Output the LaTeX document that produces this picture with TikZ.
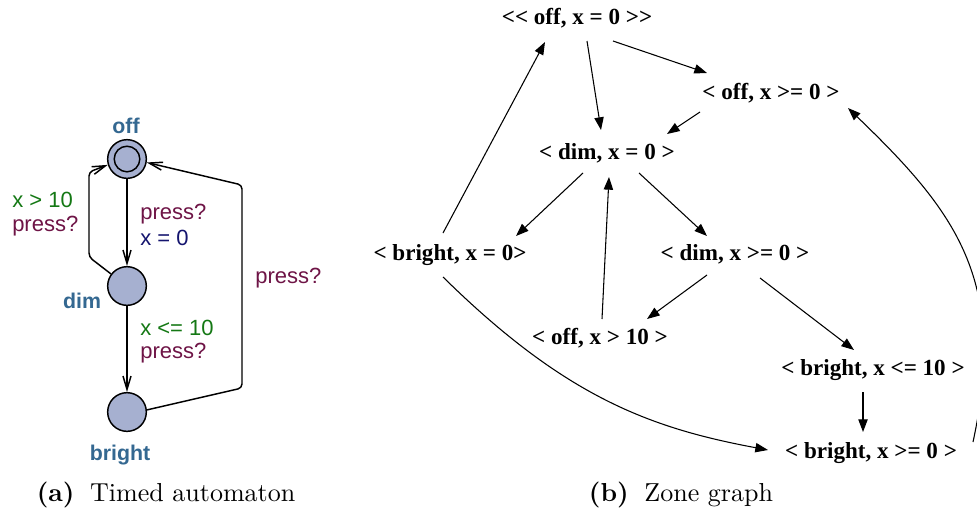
\documentclass[tikz,border=0pt]{standalone}
\usepackage{fontspec}
\newfontfamily\zonefont{Liberation Serif}
\newfontfamily\uppfont{Liberation Sans}
\usetikzlibrary{arrows.meta, calc}
\definecolor{locfill}{RGB}{166,176,208}
\definecolor{locname}{RGB}{52,104,145}
\definecolor{synccol}{RGB}{110,20,70}
\definecolor{guardcol}{RGB}{20,120,20}
\definecolor{assigncol}{RGB}{20,20,110}
\tikzset{
  loc/.style={circle, draw=black, fill=locfill, line width=1.1pt, minimum size=29pt, inner sep=0pt},
  locname/.style={font=\uppfont\bfseries\fontsize{16}{19}\selectfont, text=locname},
  lbl/.style={font=\uppfont\fontsize{16.5}{19}\selectfont, anchor=west, inner sep=0pt},
  tedge/.style={line width=1.1pt, -{Straight Barb[length=10pt, width=6pt]}},
  zone/.style={font=\zonefont\bfseries\fontsize{17.3}{20}\selectfont, inner sep=0pt, text height=0.7em, text depth=0.2em},
  zedge/.style={line width=0.8pt, -{Triangle[length=9.5pt, width=7pt]}},
  caption/.style={scale=1.95, anchor=base}
}

\begin{document}
\begin{tikzpicture}[x=0.75pt, y=-0.75pt]
  \useasboundingbox (0,0) rectangle (977,511);
  % (a) timed automaton
  \node[loc] (off) at (127,159) {};
  \draw[line width=1.1pt] (off.center) circle (9.6pt);
  \node[loc] (dim) at (127,286) {};
  \node[loc] (bright) at (127,412) {};
  \node[locname] (offname) at (126,126) {off};
  \node[locname] (dimname) at (82,301) {dim};
  \node[locname] (brightname) at (120,455) {bright};
  \coordinate (dimlow) at (89,257);
  \coordinate (dimhigh) at (89,172);
  \coordinate (brlow) at (242,388);
  \coordinate (brhigh) at (242,185);
  \draw[tedge] (off) -- (dim);
  \draw[tedge] (dim) -- (bright);
  \draw[tedge, rounded corners=3pt] (dim.143) -- (dimlow) -- (dimhigh) -- (off.197);
  \draw[tedge, rounded corners=3pt] (bright.6) -- (brlow) -- (brhigh) -- (off.-10);
  \node[lbl, text=synccol] (s1) at (140,214) {press?};
  \node[lbl, text=assigncol] (a1) at (140,238) {x = 0};
  \node[lbl, text=guardcol] (g2) at (12,200) {x > 10};
  \node[lbl, text=synccol] (s2) at (12,226) {press?};
  \node[lbl, text=guardcol] (g3) at (140,328) {x <= 10};
  \node[lbl, text=synccol] (s3) at (140,353) {press?};
  \node[lbl, text=synccol] (s4) at (255,278) {press?};
  % (b) zone graph
  \node[zone] (z0) at (577,21) {<< off, x = 0 >>};
  \node[zone] (zoffge) at (771,96) {< off, x >= 0 >};
  \node[zone] (zdim0) at (607,156) {< dim, x = 0 >};
  \node[zone] (zbri0) at (450,257) {< bright, x = 0>};
  \node[zone] (zdimge) at (735,257) {< dim, x >= 0 >};
  \node[zone] (zoff10) at (600,341) {< off, x > 10 >};
  \node[zone] (zbri10) at (873,372) {< bright, x <= 10 >};
  \node[zone] (zbrige) at (871,455) {< bright, x >= 0 >};
  \draw[zedge] ($(z0)+(10,20)$) -- ($(zdim0)+(-6,-26)$);
  \draw[zedge] ($(z0)+(36,20)$) -- ($(zoffge)+(-64,-23)$);
  \draw[zedge] ($(zoffge)+(-71,16)$) -- ($(zdim0)+(60,-22)$);
  \draw[zedge] ($(zdim0)+(-24,17)$) -- ($(zbri0)+(66,-21)$);
  \draw[zedge] ($(zdim0)+(32,17)$) -- ($(zdimge)+(-28,-21)$);
  \draw[zedge] ($(zbri0)+(-7,-24)$) -- ($(z0)+(-32,21)$);
  \draw[zedge] ($(zoff10)+(2,-22)$) -- ($(zdim0)+(2,21)$);
  \draw[zedge] ($(zdimge)+(-28,18)$) -- ($(zoff10)+(47,-22)$);
  \draw[zedge] ($(zdimge)+(25,21)$) -- ($(zbri10)+(-19,-22)$);
  \draw[zedge] ($(zbri10)+(-10,20)$) -- ($(zbrige)+(-8,-23)$);
  \draw[zedge] ($(zbri0)+(-7,20)$) .. controls (565,397) and (650,428) .. ($(zbrige)+(-103,-5)$);
  \draw[zedge] ($(zbrige)+(102,-13)$) .. controls (1008,280) and (956,212) .. ($(zoffge)+(77,12)$);
  % captions
  \node[caption] (capa) at (166,501) {\textbf{(a)}\hskip0.6em Timed automaton};
  \node[caption] (capb) at (681,501) {\textbf{(b)}\hskip0.6em Zone graph};
\end{tikzpicture}
\end{document}
